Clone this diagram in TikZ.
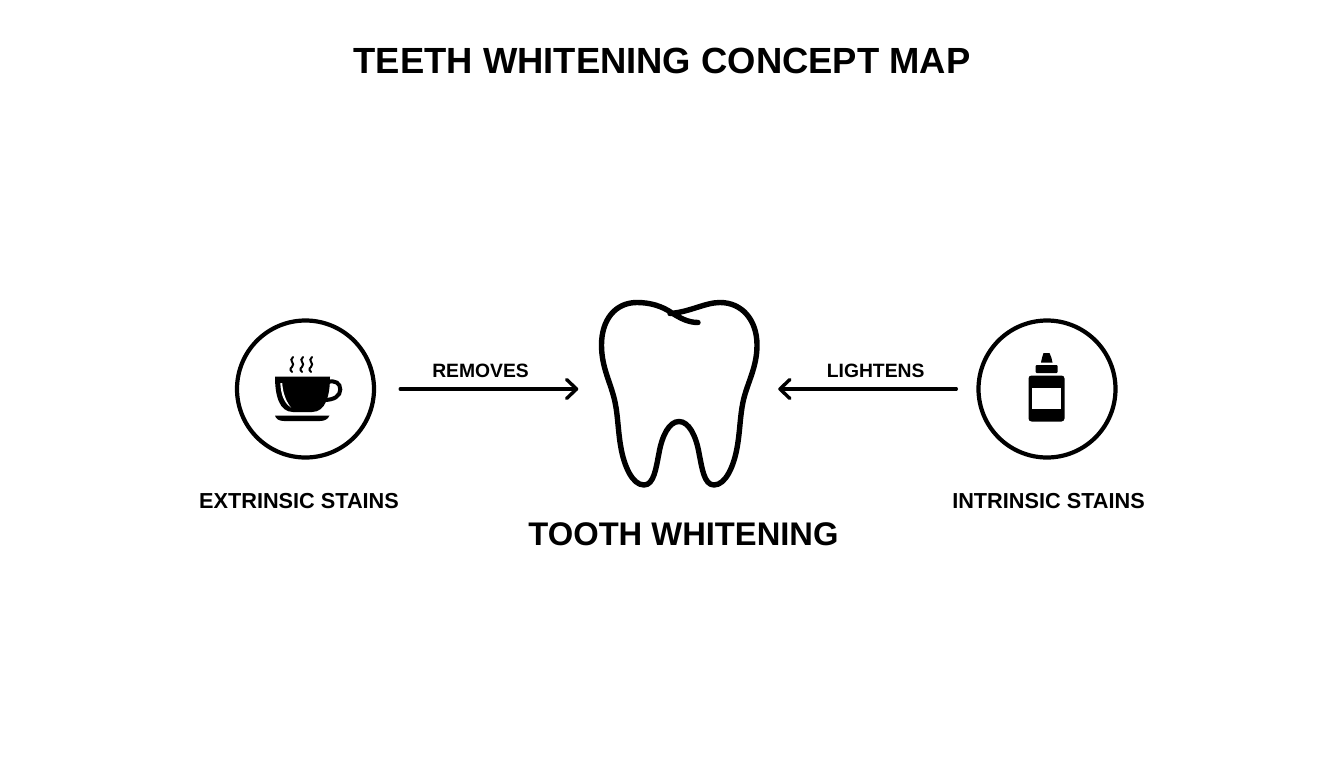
\documentclass[tikz,border=0pt]{standalone}
\usepackage{fontspec}
\setmainfont{Liberation Sans}
\usetikzlibrary{arrows.meta,positioning}

\begin{document}
\begin{tikzpicture}[
x=1pt,y=-1pt,
stainring/.style={
draw,
circle,
line width=4.2pt,
minimum size=137pt,
inner sep=0pt},
toothbox/.style={
rectangle,
minimum width=162pt,
minimum height=192pt,
inner sep=0pt},
stainlabel/.style={
font=\bfseries\fontsize{21.7}{24}\selectfont,
inner sep=0pt},
verb/.style={
font=\bfseries\fontsize{19.3}{22}\selectfont,
inner sep=0pt},
flow/.style={
line width=3.2pt,
line cap=round,
-{Straight Barb[length=10pt,width=19pt,line width=3.4pt,round]}},
icon/.style={fill=black,draw=none}]
\useasboundingbox (0,0) rectangle (1344,768);

\node[font=\bfseries\fontsize{36.4}{40}\selectfont,inner sep=0pt] (title) at (662,61) {TEETH WHITENING CONCEPT MAP};

\node[stainring] (extr) at (305.5,389) {};
\node[stainring] (intr) at (1047,389) {};
\node[toothbox] (tooth) at (679.5,389) {};

\node[stainlabel,below=33.5pt of extr,xshift=-6.5pt] (extrlabel) {EXTRINSIC STAINS};
\node[stainlabel,below=33.5pt of intr,xshift=1.5pt] (intrlabel) {INTRINSIC STAINS};
\node[font=\bfseries\fontsize{32.7}{36}\selectfont,inner sep=0pt,below=37.5pt of tooth,xshift=4pt] (toothlabel) {TOOTH WHITENING};

\draw[flow,shorten <=24pt,shorten >=20pt] (extr.east) -- (tooth.west) node[verb,pos=.47,above=9.5pt] (removes) {REMOVES};
\draw[flow,shorten <=20pt,shorten >=17.5pt] (intr.west) -- (tooth.east) node[verb,pos=.467,above=9.5pt] (lightens) {LIGHTENS};

% tooth outline, starts at the end of the fissure
\draw[line width=5.4pt,line cap=round,line join=round]
(698,322.5) .. controls (688,322.5) and (680,318) .. (672,313)
.. controls (662,306) and (650,302.5) .. (637,302.5)
.. controls (615,302.5) and (601.5,320) .. (601.5,345)
.. controls (601.5,368) and (611,383) .. (615,402)
.. controls (618,416) and (618,432) .. (621,448)
.. controls (624,465) and (632,485) .. (644,485)
.. controls (654,485) and (656,468) .. (659,453)
.. controls (662,436) and (669,421.5) .. (679,421.5)
.. controls (689,421.5) and (696,436) .. (699,453)
.. controls (702,468) and (704,485) .. (714,485)
.. controls (726,485) and (734,465) .. (737,448)
.. controls (740,432) and (740,416) .. (743,402)
.. controls (747,383) and (757,368) .. (757,345)
.. controls (757,320) and (742,302.5) .. (720,302.5)
.. controls (705,302.5) and (690,312) .. (670,313.5);

% cup
\fill[icon] (275,376.5) -- (330,376.5) .. controls (330,395) and (326,412) .. (312,412) -- (293,412) .. controls (279,412) and (275,395) .. (275,376.5) -- cycle;
\draw[line width=4pt] (328,382) .. controls (335,380) and (340.3,383) .. (340.3,389.5) .. controls (340.3,396) and (334,400) .. (324,400);
\fill[white] (280.3,383) .. controls (281,395) and (284,403) .. (291,407.5) .. controls (286.5,402) and (283,394) .. (282.2,383) -- cycle;
\fill[icon] (275,415.5) -- (329.5,415.5) .. controls (328,419) and (325,421) .. (320,421) -- (284,421) .. controls (279,421) and (276,419) .. (275,415.5) -- cycle;
\foreach \steamx in {292,302,311}
\draw[line width=2pt,line cap=round] (\steamx+1,357) .. controls (\steamx-4,361) and (\steamx+4,363) .. (\steamx,367) .. controls (\steamx-3,369) and (\steamx-1,371) .. (\steamx,372);

% bottle
\fill[icon] (1043.5,353) -- (1049.5,353) .. controls (1051,356) and (1052,359) .. (1052.5,362.5) -- (1041,362.5) .. controls (1041.5,359) and (1042.5,356) .. (1043.5,353) -- cycle;
\fill[icon,rounded corners=1pt] (1035.5,365) rectangle (1057.5,373);
\fill[icon,rounded corners=3pt] (1028.5,375.5) rectangle (1064.5,421.5);
\fill[white] (1032,387.5) rectangle (1061,408.5);
\end{tikzpicture}
\end{document}
